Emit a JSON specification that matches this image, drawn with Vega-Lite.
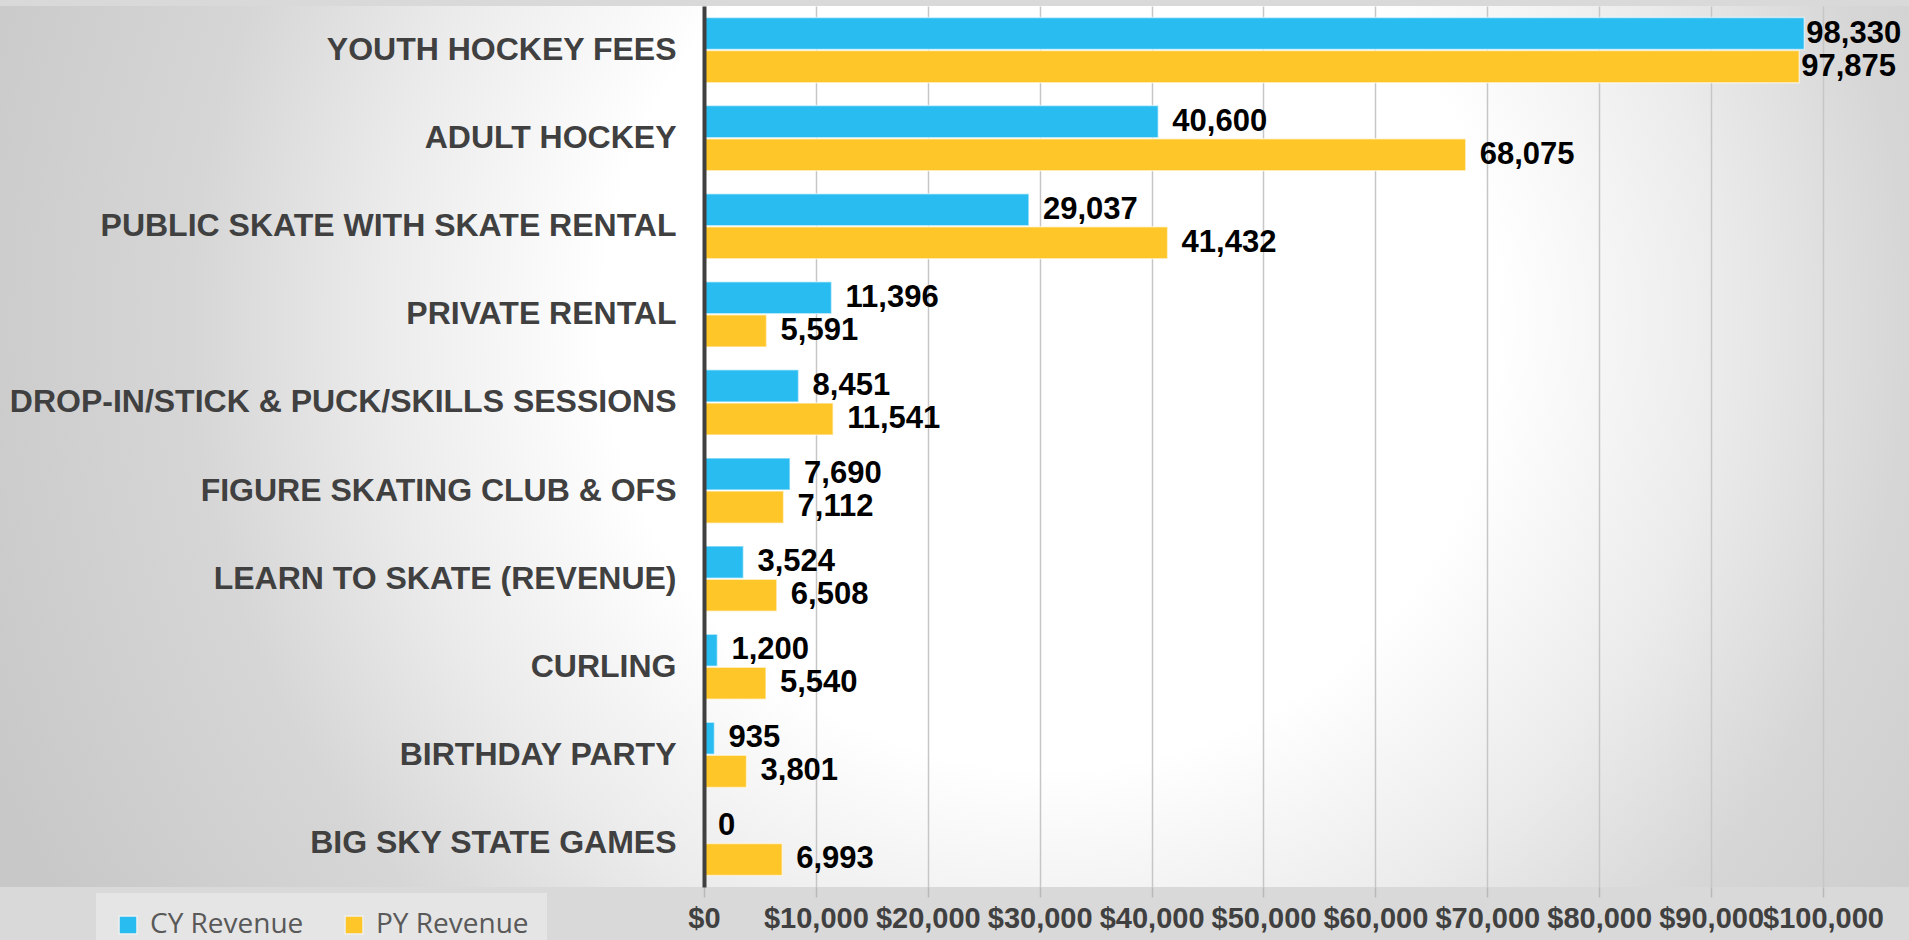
{
  "$schema": "https://vega.github.io/schema/vega-lite/v6.json",
  "width": 1909,
  "height": 881,
  "autosize": {"type": "none"},
  "padding": {"top": 6, "left": 0, "right": 0, "bottom": 53},
  "background": "#d9d9d9",
  "config": {
    "view": {
      "stroke": null,
      "fill": {
        "gradient": "radial",
        "x1": 0.55, "y1": 0.434, "r1": 0,
        "x2": 0.55, "y2": 0.434, "r2": 0.6,
        "stops": [
          {"offset": 0, "color": "#ffffff"},
          {"offset": 0.39, "color": "#ffffff"},
          {"offset": 0.585, "color": "#ebebeb"},
          {"offset": 0.75, "color": "#d6d6d6"},
          {"offset": 1, "color": "#c8c8c8"}
        ]
      }
    }
  },
  "data": {
    "values": [
      {"category": "YOUTH HOCKEY FEES", "series": "CY Revenue", "value": 98330},
      {"category": "YOUTH HOCKEY FEES", "series": "PY Revenue", "value": 97875},
      {"category": "ADULT HOCKEY", "series": "CY Revenue", "value": 40600},
      {"category": "ADULT HOCKEY", "series": "PY Revenue", "value": 68075},
      {"category": "PUBLIC SKATE WITH SKATE RENTAL", "series": "CY Revenue", "value": 29037},
      {"category": "PUBLIC SKATE WITH SKATE RENTAL", "series": "PY Revenue", "value": 41432},
      {"category": "PRIVATE RENTAL", "series": "CY Revenue", "value": 11396},
      {"category": "PRIVATE RENTAL", "series": "PY Revenue", "value": 5591},
      {"category": "DROP-IN/STICK & PUCK/SKILLS SESSIONS", "series": "CY Revenue", "value": 8451},
      {"category": "DROP-IN/STICK & PUCK/SKILLS SESSIONS", "series": "PY Revenue", "value": 11541},
      {"category": "FIGURE SKATING CLUB & OFS", "series": "CY Revenue", "value": 7690},
      {"category": "FIGURE SKATING CLUB & OFS", "series": "PY Revenue", "value": 7112},
      {"category": "LEARN TO SKATE (REVENUE)", "series": "CY Revenue", "value": 3524},
      {"category": "LEARN TO SKATE (REVENUE)", "series": "PY Revenue", "value": 6508},
      {"category": "CURLING", "series": "CY Revenue", "value": 1200},
      {"category": "CURLING", "series": "PY Revenue", "value": 5540},
      {"category": "BIRTHDAY PARTY", "series": "CY Revenue", "value": 935},
      {"category": "BIRTHDAY PARTY", "series": "PY Revenue", "value": 3801},
      {"category": "BIG SKY STATE GAMES", "series": "CY Revenue", "value": 0},
      {"category": "BIG SKY STATE GAMES", "series": "PY Revenue", "value": 6993}
    ]
  },
  "encoding": {
    "y": {
      "field": "category",
      "type": "nominal",
      "sort": null,
      "scale": {"paddingInner": 0.26, "paddingOuter": 0.13},
      "axis": {
        "title": null,
        "orient": "left",
        "offset": -704,
        "zindex": 2,
        "domain": true,
        "domainColor": "#404040",
        "domainWidth": 4,
        "ticks": false,
        "grid": false,
        "labelPadding": 28,
        "labelFont": "Liberation Sans",
        "labelFontWeight": "bold",
        "labelFontSize": 32,
        "labelColor": "#404040",
        "labelLimit": 0
      }
    },
    "yOffset": {
      "field": "series",
      "type": "nominal",
      "sort": ["CY Revenue", "PY Revenue"],
      "scale": {"paddingInner": 0.03, "paddingOuter": 0}
    },
    "x": {
      "field": "value",
      "type": "quantitative",
      "scale": {"domain": [-62913, 107686], "nice": false, "zero": false},
      "axis": {
        "title": null,
        "orient": "bottom",
        "values": [0, 10000, 20000, 30000, 40000, 50000, 60000, 70000, 80000, 90000, 100000],
        "format": "$,d",
        "domain": false,
        "grid": true,
        "gridColor": "#c6c6c6",
        "gridWidth": 1.5,
        "ticks": true,
        "tickSize": 10,
        "tickColor": "#b8b8b8",
        "tickWidth": 1.5,
        "labelPadding": 7,
        "labelFont": "Liberation Sans",
        "labelFontWeight": "bold",
        "labelFontSize": 29,
        "labelColor": "#404040",
        "labelOverlap": false,
        "labelFlush": false,
        "labelBound": false
      }
    }
  },
  "layer": [
    {
      "mark": {"type": "bar", "stroke": "#ffffff", "strokeOpacity": 0.55, "strokeWidth": 1.5},
      "encoding": {
        "color": {
          "field": "series",
          "type": "nominal",
          "scale": {"domain": ["CY Revenue", "PY Revenue"], "range": ["#29BCF1", "#FFC629"]},
          "legend": {
            "title": null,
            "orient": "none",
            "legendX": 96,
            "legendY": 887,
            "direction": "horizontal",
            "symbolType": "square",
            "symbolSize": 324,
            "symbolStrokeWidth": 1.5,
            "symbolStrokeColor": "#f0f0f0",
            "labelFont": "Open Sans",
            "labelFontSize": 28,
            "labelColor": "#595959",
            "labelOffset": 8,
            "columnPadding": 36,
            "fillColor": "#e5e5e5",
            "padding": 18
          }
        }
      }
    },
    {
      "transform": [{"filter": "datum.value < 95000"}],
      "mark": {"type": "text", "align": "left", "baseline": "middle", "dx": 14, "font": "Liberation Sans", "fontWeight": "bold", "fontSize": 31, "color": "#000000"},
      "encoding": {"text": {"field": "value", "type": "quantitative", "format": ",d"}}
    },
    {
      "transform": [{"filter": "datum.value >= 95000"}],
      "mark": {"type": "text", "align": "left", "baseline": "middle", "dx": 2, "font": "Liberation Sans", "fontWeight": "bold", "fontSize": 31, "color": "#000000"},
      "encoding": {"text": {"field": "value", "type": "quantitative", "format": ",d"}}
    }
  ]
}
